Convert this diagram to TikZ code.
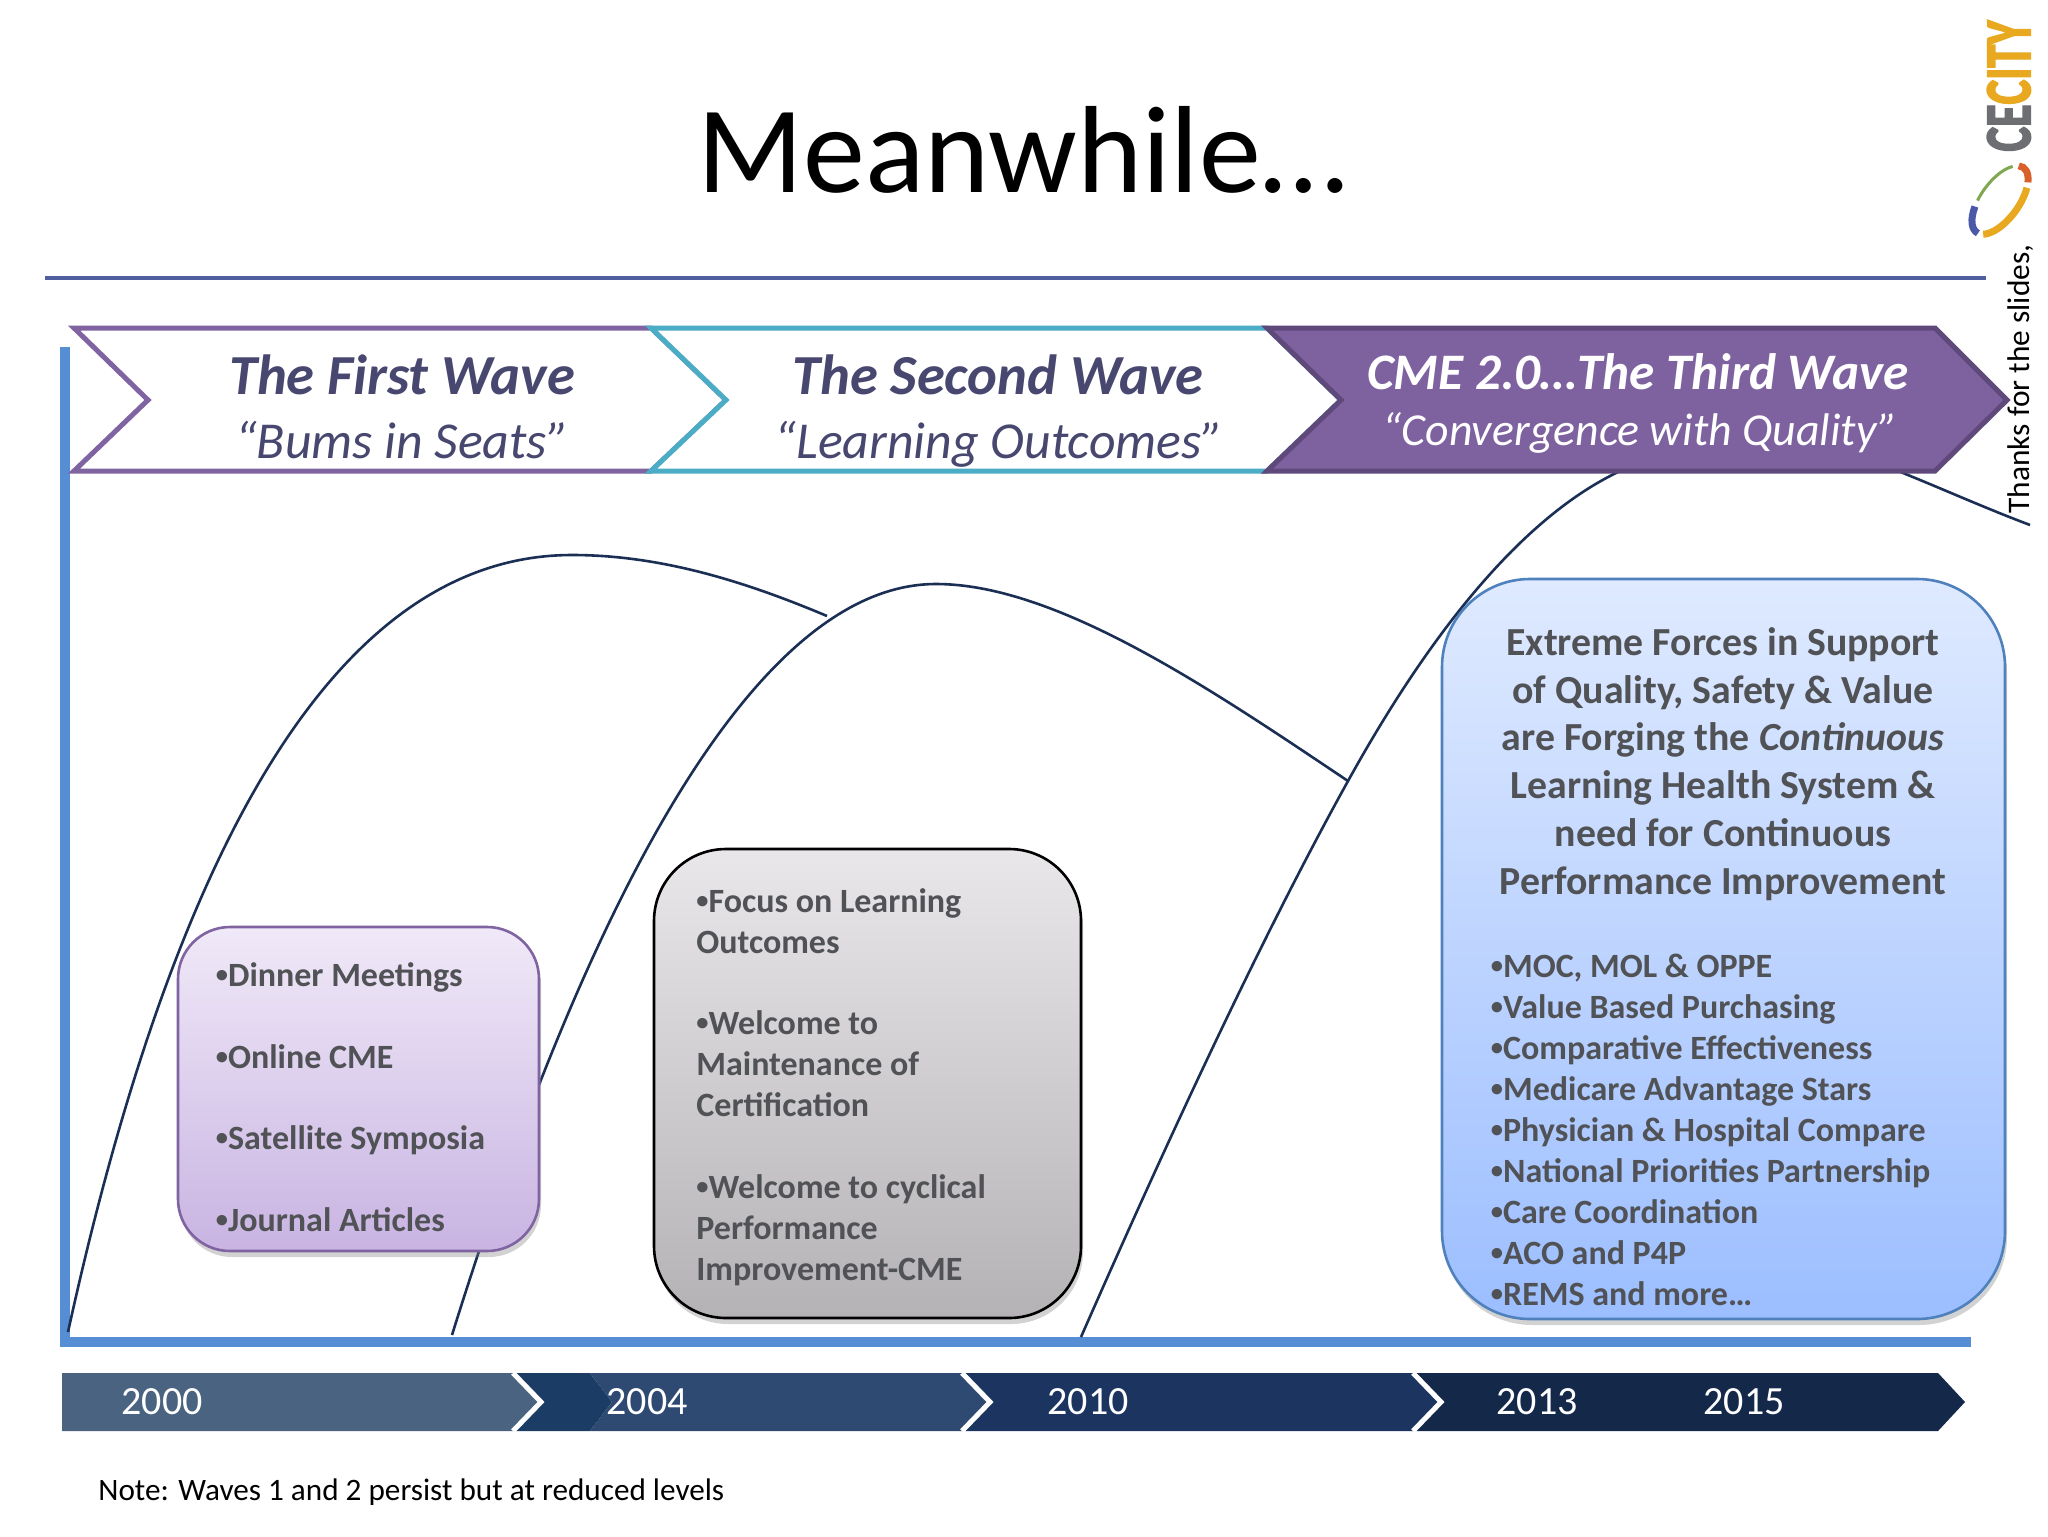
\documentclass[tikz,border=0pt]{standalone}
\usepackage{fontspec}
\setmainfont{Carlito}
\newfontfamily\logofont[FakeBold=3]{Carlito Bold}
\usetikzlibrary{shadows}
\definecolor{wavetext}{HTML}{47476F}
\definecolor{boxtext}{HTML}{505256}
\definecolor{curveblue}{HTML}{1B2F55}
\definecolor{barblue}{HTML}{558ED5}
\definecolor{boxblue}{HTML}{4F81BD}
\definecolor{ruleblue}{HTML}{4F5F9F}
\definecolor{firstline}{HTML}{8064A2}
\definecolor{secondline}{HTML}{4BACC6}
\definecolor{thirdfill}{HTML}{7E62A0}
\definecolor{thirdline}{HTML}{5F497A}
\definecolor{firsttop}{HTML}{F0E9F8}
\definecolor{firstbot}{HTML}{C9B4E2}
\definecolor{secondtop}{HTML}{E9E7E9}
\definecolor{secondbot}{HTML}{B5B2B5}
\definecolor{thirdtop}{HTML}{DFEAFF}
\definecolor{thirdbot}{HTML}{9CBEFF}
\definecolor{bandone}{HTML}{4A6380}
\definecolor{bandhead}{HTML}{1B3C64}
\definecolor{bandtwo}{HTML}{2E4A72}
\definecolor{bandthree}{HTML}{1B3560}
\definecolor{bandfour}{HTML}{14294A}
\definecolor{logogrey}{HTML}{6D6E71}
\definecolor{logogold}{HTML}{E8A820}
\definecolor{logored}{HTML}{D8602A}
\definecolor{logoblue}{HTML}{4A5AA8}
\definecolor{logogreen}{HTML}{7FA850}
\newcommand{\bul}{\raisebox{0.12em}{\scalebox{0.72}{•}}}
\tikzset{
  wavehead/.style={inner sep=0pt,anchor=base,text=wavetext,font=\fontsize{28.3}{32}\selectfont\bfseries\itshape},
  wavesub/.style={inner sep=0pt,anchor=base,text=wavetext,font=\fontsize{25.9}{28}\selectfont\itshape},
  yearlabel/.style={inner sep=0pt,anchor=base,text=white,font=\fontsize{20}{24}\selectfont},
  listtext/.style={inner sep=0pt,anchor=north west,align=left,text=boxtext,font=\fontsize{17}{20.45}\selectfont\bfseries},
  wavecurve/.style={draw=curveblue,line width=1.3pt},
  roundbox/.style={line width=1.3pt,inner sep=0pt,drop shadow={shadow xshift=1pt,shadow yshift=-3pt,opacity=0.35}}
}
\begin{document}
\begin{tikzpicture}[x=0.5pt,y=-0.5pt]
\useasboundingbox (0,0) rectangle (2048,1536);
\fill[white] (0,0) rectangle (2048,1536);
\node[inner sep=0pt,anchor=base,font=\fontsize{62}{74}\selectfont] (title) at (1022,192) {Meanwhile…};
\draw[color=ruleblue,line width=2pt] (45,278) -- (1986,278);
\fill[barblue] (60,347) rectangle (70,1347);
\fill[barblue] (60,1337) rectangle (1971,1347);
\draw[wavecurve] (68,1332) .. controls (165,890) and (320,555) .. (572,555) .. controls (660,555) and (744,581) .. (827,616);
\draw[wavecurve] (452,1335) .. controls (575,940) and (744,584) .. (936,584) .. controls (1058,584) and (1215,692) .. (1348,781);
\draw[wavecurve] (1081,1337) .. controls (1175,1123) and (1267,927) .. (1348,781) .. controls (1437,620) and (1528,516) .. (1616,473) .. controls (1711,424) and (1815,431) .. (1903,473) .. controls (1945,490) and (1985,508) .. (2030,525);
\draw[draw=firstline,line width=2.5pt,fill=white] (74,328) -- (651,328) -- (726,400) -- (651,471) -- (74,471) -- (148,400) -- cycle;
\draw[draw=secondline,line width=2.5pt,fill=white] (651,328) -- (1267,328) -- (1341,400) -- (1267,471) -- (651,471) -- (726,400) -- cycle;
\draw[draw=thirdline,line width=2.5pt,fill=thirdfill] (1267,328) -- (1935,328) -- (2007,400) -- (1935,471) -- (1267,471) -- (1341,400) -- cycle;
\node[wavehead] (first) at (402,394) {The First Wave};
\node[wavesub] (firstsub) at (402,458) {“Bums in Seats”};
\node[wavehead] (second) at (998,394) {The Second Wave};
\node[wavesub] (secondsub) at (999,458) {“Learning Outcomes”};
\node[wavehead,text=white,font=\fontsize{25.6}{30}\selectfont\bfseries\itshape] (third) at (1638,389) {CME 2.0…The Third Wave};
\node[wavesub,text=white,font=\fontsize{22.9}{26}\selectfont\itshape] (thirdsub) at (1640,445) {“Convergence with Quality”};
\node[roundbox,draw=firstline,top color=firsttop,bottom color=firstbot,rounded corners=26pt,minimum width=180.5pt,minimum height=162pt] (boxfirst) at (358.5,1089) {};
\node[roundbox,draw=black,top color=secondtop,bottom color=secondbot,rounded corners=36pt,minimum width=213.5pt,minimum height=234.5pt] (boxsecond) at (867.5,1083.5) {};
\node[roundbox,draw=boxblue,top color=thirdtop,bottom color=thirdbot,rounded corners=44pt,minimum width=281.5pt,minimum height=370pt] (boxthird) at (1723.5,949) {};
\node[listtext] (listfirst) at (215.5,962) {\bul Dinner Meetings\\[20.45pt]\bul Online CME\\[20.45pt]\bul Satellite Symposia\\[20.45pt]\bul Journal Articles};
\node[listtext] (listsecond) at (696,888) {\bul Focus on Learning\\Outcomes\\[20.45pt]\bul Welcome to\\Maintenance of\\Certification\\[20.45pt]\bul Welcome to cyclical\\Performance\\Improvement-CME};
\node[listtext,align=center,anchor=north,font=\fontsize{19.9}{23.9}\selectfont\bfseries] (forces) at (1723,627) {Extreme Forces in Support\\of Quality, Safety \& Value\\are Forging the \textit{Continuous}\\Learning Health System \&\\need for Continuous\\Performance Improvement};
\node[listtext] (listthird) at (1490.5,954) {\bul MOC, MOL \& OPPE\\\bul Value Based Purchasing\\\bul Comparative Effectiveness\\\bul Medicare Advantage Stars\\\bul Physician \& Hospital Compare\\\bul National Priorities Partnership\\\bul Care Coordination\\\bul ACO and P4P\\\bul REMS and more…};
\fill[bandone] (62,1373) -- (513,1373) -- (541,1402) -- (513,1431) -- (62,1431) -- cycle;
\fill[bandhead] (513,1373) -- (590,1373) -- (612,1402) -- (590,1431) -- (513,1431) -- (541,1402) -- cycle;
\fill[bandtwo] (590,1373) -- (962,1373) -- (990,1402) -- (962,1431) -- (590,1431) -- (612,1402) -- cycle;
\fill[bandthree] (962,1373) -- (1413,1373) -- (1441,1402) -- (1413,1431) -- (962,1431) -- (990,1402) -- cycle;
\fill[bandfour] (1413,1373) -- (1938,1373) -- (1965,1402) -- (1938,1431) -- (1413,1431) -- (1441,1402) -- cycle;
\foreach \xs in {513,962,1413}
  \draw[white,line width=2.5pt] (\xs,1373) -- ({\xs+28},1402) -- (\xs,1431);
\node[yearlabel] (yearone) at (162,1414) {2000};
\node[yearlabel] (yeartwo) at (647,1414) {2004};
\node[yearlabel] (yearthree) at (1088,1414) {2010};
\node[yearlabel] (yearfour) at (1537,1414) {2013};
\node[yearlabel] (yearfive) at (1744,1414) {2015};
\node[inner sep=0pt,anchor=base west,font=\fontsize{15.6}{18}\selectfont] (note) at (98,1500) {Note: Waves 1 and 2 persist but at reduced levels};
\node[inner sep=0pt,anchor=base,rotate=90,font=\fontsize{15.7}{18}\selectfont] (thanks) at (2029,379) {Thanks for the slides,};
\node[inner sep=0pt,anchor=base,rotate=90,font=\fontsize{32.6}{38}\logofont] (logo) at (2030,86) {\scalebox{0.71}[1]{\textcolor{logogrey}{CE}\textcolor{logogold}{CITY}}};
\begin{scope}[shift={(2000,200)},rotate=-36,line width=3.5pt]
\draw[color=logored] (-105:19 and 40) arc[start angle=-105,end angle=-50,x radius=19,y radius=40];
\draw[color=logogold] (-40:19 and 40) arc[start angle=-40,end angle=70,x radius=19,y radius=40];
\draw[color=logoblue] (85:19 and 40) arc[start angle=85,end angle=150,x radius=19,y radius=40];
\draw[color=logogreen,line width=1.5pt] (160:19 and 40) arc[start angle=160,end angle=240,x radius=19,y radius=40];
\end{scope}
\end{tikzpicture}
\end{document}
